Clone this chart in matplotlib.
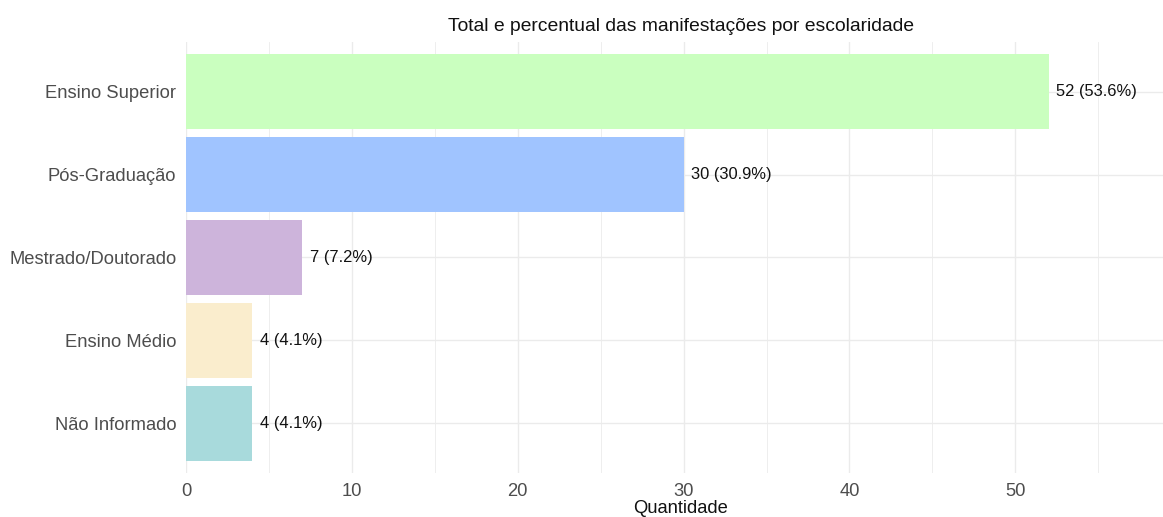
import matplotlib
matplotlib.use("Agg")
import matplotlib.pyplot as plt
from matplotlib.ticker import MultipleLocator

categories = ["Ensino Superior", "Pós-Graduação", "Mestrado/Doutorado", "Ensino Médio", "Não Informado"]
values = [52, 30, 7, 4, 4]
percents = [53.6, 30.9, 7.2, 4.1, 4.1]
colors = ["#CAFFBF", "#A0C4FF", "#CDB4DB", "#FAEDCD", "#A8DADC"]
x_ticks = [0, 10, 20, 30, 40, 50]

plt.rcParams['font.family'] = ['Liberation Sans', 'DejaVu Sans']

fig = plt.figure(figsize=(11.63, 5.17), dpi=100)
ax = fig.add_axes([186/1163, 1-473/517, 1-186/1163, (473-42)/517])

n = len(categories)
ypos = list(range(n, 0, -1))
ax.barh(ypos, values, height=0.9, color=colors, zorder=2)
for y, v, p in zip(ypos, values, percents):
    ax.text(v + 0.45, y, f"{v} ({p}%)", va="center", ha="left", fontsize=11.9, color="#111111", zorder=3)

ax.set_xlim(0, 58.9)
ax.set_ylim(0.4, n + 0.6)
ax.set_yticks(ypos)
ax.set_yticklabels(categories, fontsize=13.2, color="#4D4D4D")
ax.set_xticks(x_ticks)
ax.set_xticklabels([str(t) for t in x_ticks], fontsize=13.2, color="#4D4D4D")
ax.xaxis.set_minor_locator(MultipleLocator(5))
ax.tick_params(axis="both", which="both", length=0)
ax.tick_params(axis="x", pad=7)
ax.tick_params(axis="y", pad=7)

ax.grid(True, which="major", axis="both", color="#EBEBEB", linewidth=1.0, zorder=0)
ax.grid(True, which="minor", axis="x", color="#EBEBEB", linewidth=0.6, zorder=0)
ax.set_axisbelow(True)
for s in ax.spines.values():
    s.set_visible(False)

cx = (681 - 186) / (1163 - 186)
ax.set_xlabel("Quantidade", fontsize=13.2, color="#111111", labelpad=1)
ax.xaxis.set_label_coords(cx, -0.062)
t = ax.set_title("Total e percentual das manifestações por escolaridade", fontsize=13.9, color="#111111", pad=8)
t.set_x(cx)

fig.savefig("out.png", dpi=100)
